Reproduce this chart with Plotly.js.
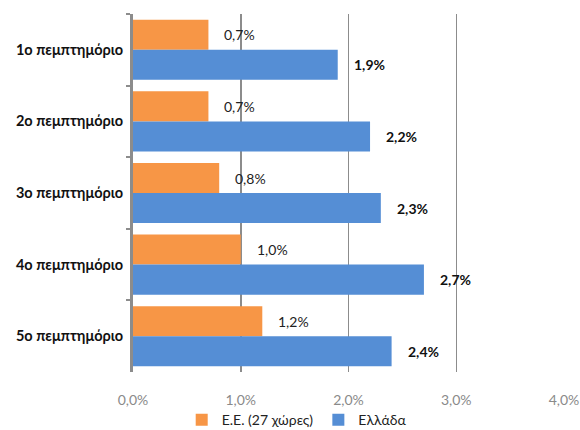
<!DOCTYPE html>
<html>
<head>
<meta charset="utf-8">
<script src="https://cdn.plot.ly/plotly-3.0.1.min.js"></script>
<style>html,body{margin:0;padding:0;background:#fff;}#chart{width:580px;height:430px;}</style>
</head>
<body>
<div id="chart"></div>
<script>
const categories = ["1ο πεμπτημόριο", "2ο πεμπτημόριο", "3ο πεμπτημόριο", "4ο πεμπτημόριο", "5ο πεμπτημόριο"];
const euValues = [0.7, 0.7, 0.8, 1.0, 1.2];
const greeceValues = [1.9, 2.2, 2.3, 2.7, 2.4];
const seriesNames = ["Ε.Ε. (27 χώρες)", "Ελλάδα"];
const xTicks = [0, 1, 2, 3, 4];

const FONT = "Lato, 'Noto Sans', 'DejaVu Sans', sans-serif";
const fmt = v => v.toFixed(1).replace(".", ",") + "%";

const traces = [
  {type: "bar", orientation: "h", name: seriesNames[0], y: categories, x: euValues,
   marker: {color: "#F79646"}, hoverinfo: "x"},
  {type: "bar", orientation: "h", name: seriesNames[1], y: categories, x: greeceValues,
   marker: {color: "#558ED5"}, hoverinfo: "x"}
];

const annotations = [];
categories.forEach((c, i) => {
  annotations.push({x: euValues[i], y: c, text: fmt(euValues[i]), showarrow: false,
    xanchor: "left", yanchor: "middle", xshift: 14, yshift: 15,
    font: {family: FONT, size: 14, color: "#222"}});
  annotations.push({x: greeceValues[i], y: c, text: "<b>" + fmt(greeceValues[i]) + "</b>", showarrow: false,
    xanchor: "left", yanchor: "middle", xshift: 14, yshift: -15,
    font: {family: FONT, size: 14, color: "#111"}});
});

const layout = {
  width: 580, height: 430,
  margin: {l: 133, r: 16, t: 14, b: 58, autoexpand: false},
  paper_bgcolor: "#fff", plot_bgcolor: "#fff",
  font: {family: FONT, size: 14, color: "#222"},
  separators: ",.",
  barmode: "group", bargap: 0.16, bargroupgap: 0,
  xaxis: {range: [0, 4], tickvals: xTicks, ticktext: xTicks.map(fmt),
    showgrid: true, gridcolor: "#8c8c8c", gridwidth: 1.5, zeroline: false,
    ticks: "outside", ticklen: 15, tickcolor: "rgba(0,0,0,0)",
    tickfont: {family: FONT, size: 14, color: "#8a8a8a"}, fixedrange: true},
  yaxis: {autorange: "reversed", showline: true, linecolor: "#8c8c8c", linewidth: 3,
    ticks: "outside", tickson: "boundaries", ticklen: 4, tickcolor: "#8c8c8c", tickwidth: 2,
    showgrid: false, ticklabelstandoff: 4,
    tickfont: {family: FONT, size: 14.5, color: "#111", weight: "bold"}, fixedrange: true},
  legend: {orientation: "h", x: 0.113, xanchor: "left",
    y: -0.09, yanchor: "top",
    font: {family: FONT, size: 14, color: "#222"}, itemwidth: 30, traceorder: "normal",
    bgcolor: "rgba(0,0,0,0)"},
  annotations: annotations,
  showlegend: true
};

Plotly.newPlot("chart", traces, layout, {displayModeBar: false, staticPlot: true});
</script>
</body>
</html>
